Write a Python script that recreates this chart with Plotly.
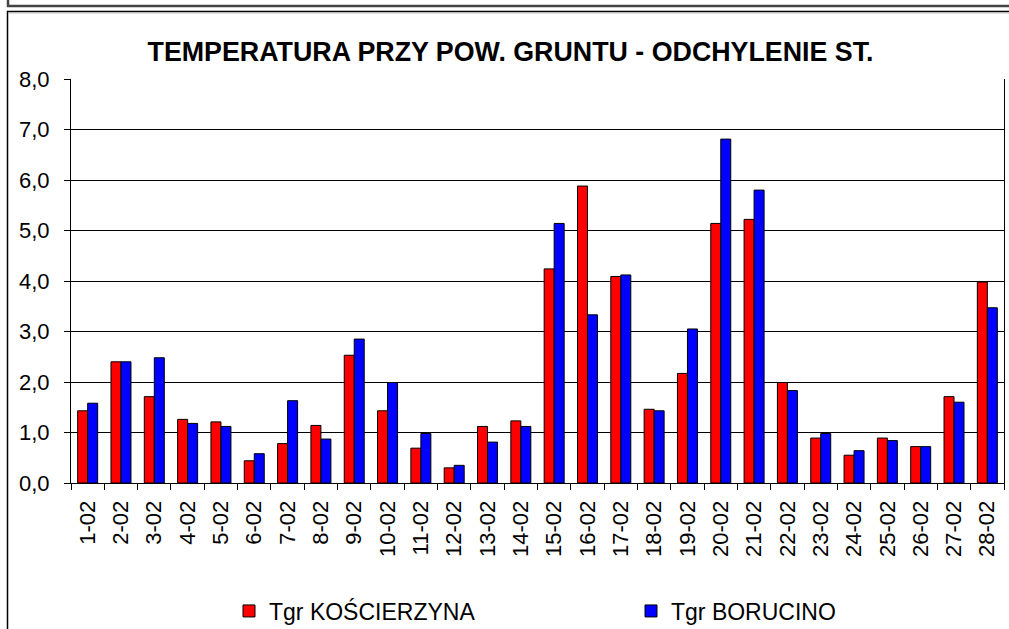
import plotly.graph_objects as go

days = [f"{i}-02" for i in range(1, 29)]
koscierzyna = [1.43, 2.40, 1.71, 1.26, 1.21, 0.44, 0.78, 1.14, 2.53, 1.43,
               0.69, 0.30, 1.12, 1.23, 4.24, 5.88, 4.09, 1.46, 2.17, 5.14,
               5.22, 1.99, 0.89, 0.55, 0.89, 0.72, 1.71, 3.98]
borucino = [1.58, 2.40, 2.48, 1.18, 1.12, 0.58, 1.63, 0.87, 2.85, 1.99,
            0.98, 0.35, 0.81, 1.12, 5.14, 3.33, 4.12, 1.43, 3.05, 6.81,
            5.80, 1.83, 0.98, 0.64, 0.84, 0.72, 1.60, 3.47]
series_names = ["Tgr KOŚCIERZYNA", "Tgr BORUCINO"]
title_text = "TEMPERATURA PRZY POW. GRUNTU - ODCHYLENIE ST."

W, H = 1009, 629
L, R, T, B = 71, 5, 79, 146
pw, ph = W - L - R, H - T - B


def px(x):
    return (x - L) / pw


def py(y):
    return (H - B - y) / ph


font = "Liberation Sans, Arial, sans-serif"

fig = go.Figure()
fig.add_trace(go.Bar(x=days, y=koscierzyna, name=series_names[0],
                     marker=dict(color="#FF0000", line=dict(color="black", width=1))))
fig.add_trace(go.Bar(x=days, y=borucino, name=series_names[1],
                     marker=dict(color="#0000FF", line=dict(color="black", width=1))))

fig.update_layout(
    width=W, height=H,
    margin=dict(l=L, r=R, t=T, b=B, autoexpand=False),
    paper_bgcolor="white", plot_bgcolor="white",
    separators=", ",
    barmode="group", bargap=0.4, bargroupgap=0,
    font=dict(family=font, size=22, color="black"),
    title=dict(text=f"<b>{title_text}</b>", x=0.506, xanchor="center",
               y=1 - 52 / H, yanchor="middle", xref="container", yref="container",
               font=dict(family=font, size=26.8, color="black")),
    showlegend=True,
    legend=dict(orientation="h", x=px(229), y=py(611), xanchor="left", yanchor="middle",
                xref="paper", yref="paper", entrywidth=357, entrywidthmode="pixels",
                font=dict(family=font, size=23, color="black"),
                bgcolor="rgba(0,0,0,0)", itemclick=False),
    xaxis=dict(type="category", showline=True, linecolor="black", linewidth=1,
               ticks="outside", tickson="boundaries", ticklen=6, tickcolor="black",
               tickangle=-90, showgrid=False, tickfont=dict(size=22),
               ticklabelstandoff=8),
    yaxis=dict(range=[0, 8], dtick=1, tickformat=".1f", showline=True, mirror=True,
               linecolor="black", linewidth=1, ticks="outside", ticklen=6,
               tickcolor="black", showgrid=True, gridcolor="black", gridwidth=1,
               zeroline=False, tickfont=dict(size=22), ticklabelstandoff=10),
    shapes=[
        dict(type="rect", xref="paper", yref="paper", x0=px(8), x1=px(1030),
             y0=py(6), y1=py(-30), line=dict(color="#444444", width=2.5)),
        dict(type="rect", xref="paper", yref="paper", x0=px(7.5), x1=px(1030),
             y0=py(660), y1=py(11.5), line=dict(color="black", width=1.5)),
        dict(type="line", xref="paper", yref="paper", x0=px(9), x1=px(1030),
             y0=py(13), y1=py(13), line=dict(color="#BBBBBB", width=1)),
    ],
)

fig.write_html("out.html", config={"displayModeBar": False},
               post_script="document.body.style.margin='0';document.body.style.overflow='hidden';")
